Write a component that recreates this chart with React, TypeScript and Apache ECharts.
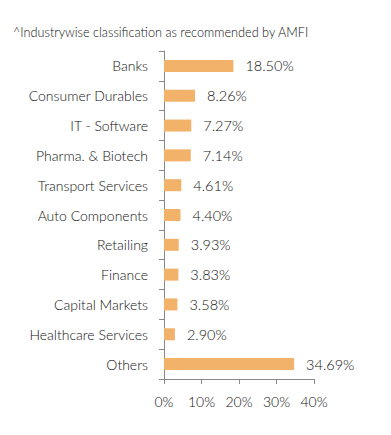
import React, { useEffect, useRef } from "react";
import * as echarts from "echarts";

const categories = [
  "Banks",
  "Consumer Durables",
  "IT - Software",
  "Pharma. & Biotech",
  "Transport Services",
  "Auto Components",
  "Retailing",
  "Finance",
  "Capital Markets",
  "Healthcare Services",
  "Others",
];
const values = [18.5, 8.26, 7.27, 7.14, 4.61, 4.4, 3.93, 3.83, 3.58, 2.9, 34.69];
const xTicks = [0, 10, 20, 30, 40];
const title = "^Industrywise classification as recommended by AMFI";

export default function App() {
  const ref = useRef<HTMLDivElement>(null);
  useEffect(() => {
    const chart = echarts.init(ref.current!, null, { renderer: "svg" });
    chart.setOption({
      animation: false,
      title: {
        text: title,
        left: 8,
        top: 20,
        textStyle: { fontFamily: "Lato", fontSize: 12.7, fontWeight: 300, color: "#111" },
      },
      grid: { left: 164, right: 77, top: 51, bottom: 56, containLabel: false },
      xAxis: {
        type: "value",
        min: xTicks[0],
        max: xTicks[xTicks.length - 1],
        interval: 10,
        axisLine: { show: true, lineStyle: { color: "#888" } },
        axisTick: { show: true, length: 5, lineStyle: { color: "#888" } },
        splitLine: { show: false },
        axisLabel: {
          formatter: (v: number) => v + "%",
          fontFamily: "Lato",
          fontSize: 14,
          fontWeight: 300,
          color: "#111",
          margin: 15,
        },
      },
      yAxis: {
        type: "category",
        data: categories,
        inverse: true,
        axisLine: { show: true, lineStyle: { color: "#888" } },
        axisTick: { show: true, length: 5, lineStyle: { color: "#888" } },
        axisLabel: { fontFamily: "Lato", fontSize: 14, fontWeight: 300, color: "#111", margin: 16 },
      },
      series: [
        {
          type: "bar",
          data: values,
          barWidth: 12,
          itemStyle: { color: "#F2B26A" },
          label: {
            show: true,
            position: "right",
            distance: 12,
            formatter: (p: any) => p.value.toFixed(2) + "%",
            fontFamily: "Lato",
            fontSize: 14.5,
            fontWeight: 300,
            color: "#111",
          },
        },
      ],
    });
    return () => chart.dispose();
  }, []);
  return <div ref={ref} style={{ width: 391, height: 435, position: "absolute", left: 0, top: 0 }} />;
}
